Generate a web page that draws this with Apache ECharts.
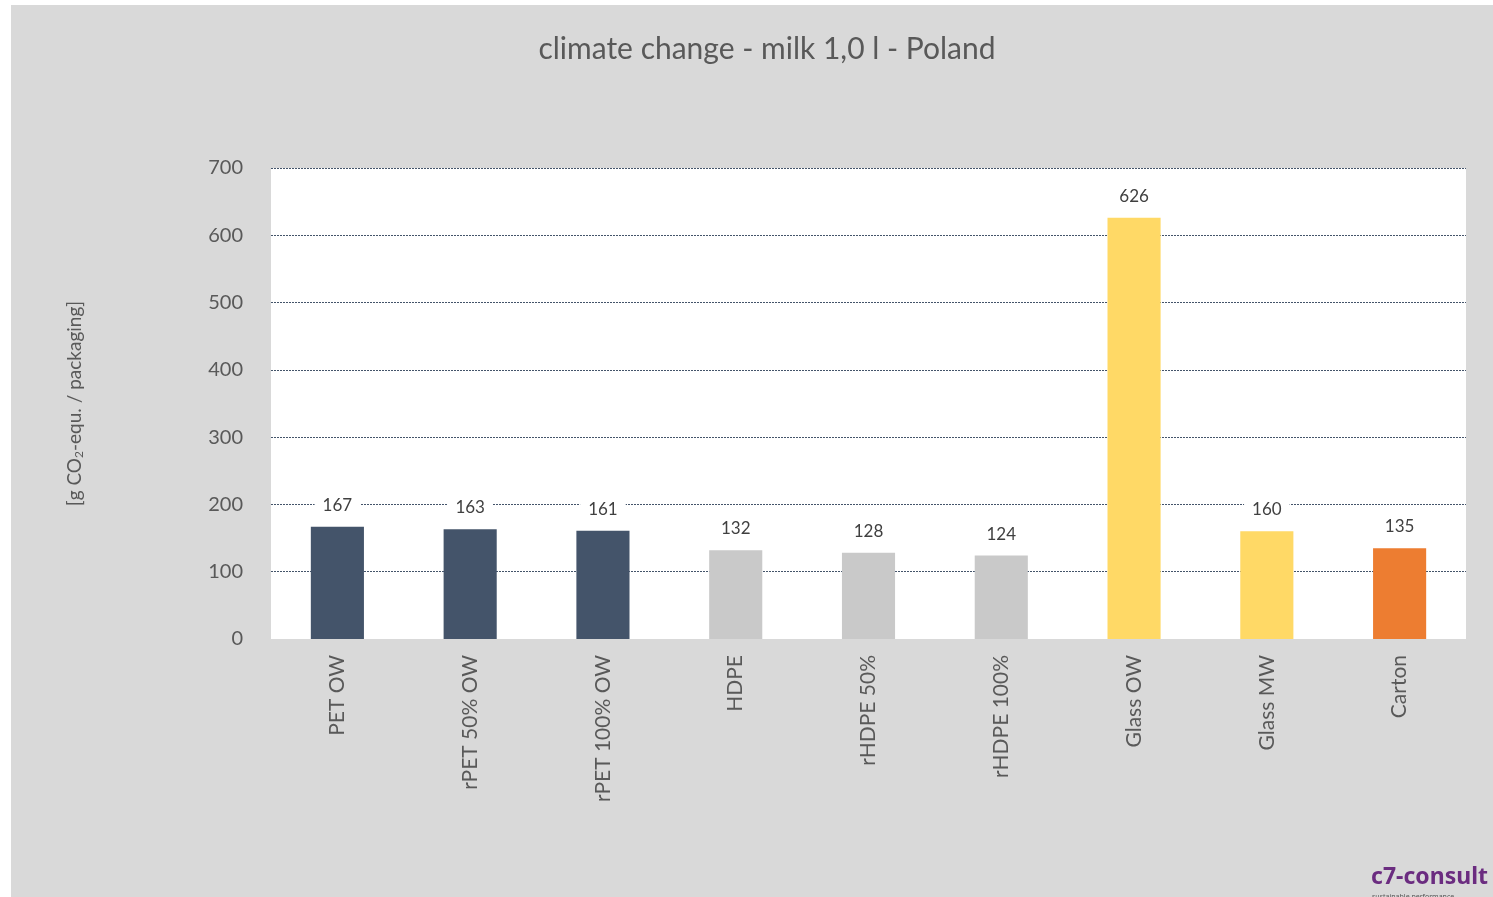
<!DOCTYPE html>
<html>
<head>
<meta charset="utf-8">
<script src="https://cdn.jsdelivr.net/npm/echarts@6/dist/echarts.min.js"></script>
<style>
  html, body { margin: 0; padding: 0; background: #fff; }
  #main { position: absolute; left: 11px; top: 5px; width: 1482px; height: 892px; background: #d9d9d9; }
</style>
</head>
<body>
<div id="main"></div>
<script>
var categories = ['PET OW', 'rPET 50% OW', 'rPET 100% OW', 'HDPE', 'rHDPE 50%', 'rHDPE 100%', 'Glass OW', 'Glass MW', 'Carton'];
var values = [167, 163, 161, 132, 128, 124, 626, 160, 135];
var barColors = ['#44546a', '#44546a', '#44546a', '#c9c9c9', '#c9c9c9', '#c9c9c9', '#ffd966', '#ffd966', '#ed7d31'];

var font = 'Lato, "Open Sans", sans-serif';
var gridColor = '#44546a';
var myChart = echarts.init(document.getElementById('main'));
var option = {
    backgroundColor: 'transparent',
    textStyle: { fontFamily: font },
    title: {
        text: 'climate change - milk 1,0 l - Poland',
        left: 751,
        top: 24,
        textAlign: 'center',
        textStyle: { color: '#595959', fontSize: 30, fontWeight: 'normal', fontFamily: font }
    },
    grid: {
        left: 260,
        top: 163,
        right: 27,
        bottom: 258,
        show: true,
        backgroundColor: '#ffffff',
        borderWidth: 0
    },
    xAxis: {
        type: 'category',
        data: categories,
        axisLine: { show: false },
        axisTick: { show: false },
        axisLabel: {
            rotate: 90,
            margin: 16,
            color: '#595959',
            fontSize: 21,
            fontFamily: font
        }
    },
    yAxis: {
        type: 'value',
        min: 0,
        max: 700,
        interval: 100,
        name: '{a|[g CO}{s|2}{a|-equ. / packaging]}',
        nameLocation: 'middle',
        nameGap: 186,
        nameRotate: 90,
        nameTextStyle: {
            rich: {
                a: { fontSize: 19, color: '#595959', fontFamily: font },
                s: { fontSize: 12, color: '#595959', fontFamily: font, padding: [9, 0, 0, 0] }
            }
        },
        axisLine: { show: false },
        axisTick: { show: false },
        axisLabel: { color: '#595959', fontSize: 20, margin: 28, fontFamily: font },
        splitLine: {
            show: true,
            lineStyle: {
                color: ['rgba(0,0,0,0)', gridColor, gridColor, gridColor, gridColor, gridColor, gridColor, gridColor],
                type: [2, 1],
                width: 1
            }
        }
    },
    series: [{
        type: 'bar',
        barWidth: '40%',
        data: values.map(function (v, i) {
            return { value: v, itemStyle: { color: barColors[i] } };
        }),
        label: {
            show: true,
            position: 'top',
            distance: 11,
            color: '#404040',
            fontSize: 17,
            fontFamily: font,
            backgroundColor: '#ffffff',
            padding: [2, 8, 2, 8]
        }
    }],
    graphic: [
        {
            type: 'text',
            right: 5,
            top: 861,
            style: { text: 'c7-consult', fill: '#6b2c80', font: 'bold 23px "Noto Sans", sans-serif' }
        },
        {
            type: 'text',
            left: 1361,
            top: 888,
            style: { text: 'sustainable performance', fill: '#555555', font: '7px "Noto Sans", sans-serif' }
        }
    ]
};
myChart.setOption(option);
</script>
</body>
</html>
